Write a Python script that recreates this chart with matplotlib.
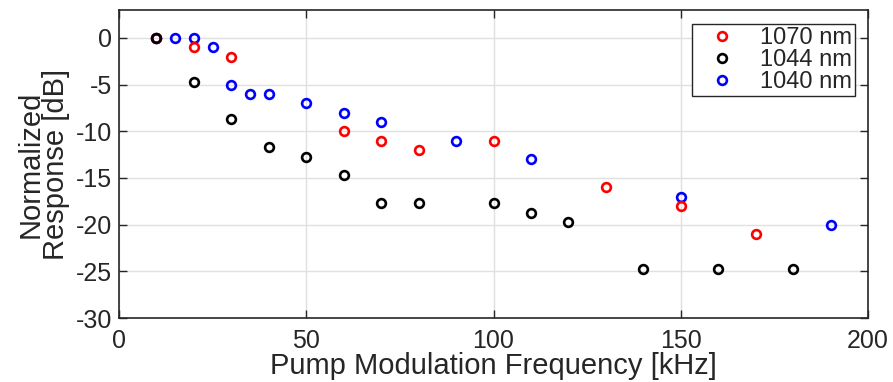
import numpy as np
import matplotlib.pyplot as plt

plt.rcParams['font.family'] = ['Liberation Sans', 'DejaVu Sans']
plt.rcParams['axes.unicode_minus'] = False

# 1070 nm
f_1070 = [10, 20, 30, 60, 70, 80, 100, 130, 150, 170]
r_1070 = [0, -1, -2, -10, -11, -12, -11, -16, -18, -21]

# 1044 nm
f_1044 = [10, 20, 30, 40, 50, 60, 70, 80, 100, 110, 120, 140, 160, 180]
r_1044 = [0, -4.7, -8.7, -11.7, -12.7, -14.7, -17.7, -17.7, -17.7, -18.7, -19.7, -24.7, -24.7, -24.7]

# 1040 nm
f_1040 = [10, 15, 20, 25, 30, 35, 40, 50, 60, 70, 90, 110, 150, 190]
r_1040 = [0, 0, 0, -1, -5, -6, -6, -7, -8, -9, -11, -13, -17, -20]

txt = '#262626'

fig = plt.figure(figsize=(8.93, 3.82), dpi=100)
ax = fig.add_axes([0.1333, 0.1675, 0.8387, 0.8065])

mk = dict(linestyle='none', marker='o', markersize=6.3, markerfacecolor='none', markeredgewidth=1.9)
h_blue, = ax.plot(f_1040, r_1040, color='#0000ff', label='1040 nm', **mk)
h_red, = ax.plot(f_1070, r_1070, color='#ff0000', label='1070 nm', **mk)
h_black, = ax.plot(f_1044, r_1044, color='black', label='1044 nm', **mk)

ax.set_xlim(0, 200)
ax.set_ylim(-30, 3)
ax.set_xticks([0, 50, 100, 150, 200])
ax.set_yticks([0, -5, -10, -15, -20, -25, -30])
ax.grid(True, color='#e0e0e0', linewidth=1)
ax.set_axisbelow(True)
ax.tick_params(direction='in', top=True, right=True, labelsize=18, length=5.5,
               width=1, colors=txt)
ax.tick_params(axis='x', pad=8)
ax.tick_params(axis='y', pad=5)
for s in ax.spines.values():
    s.set_linewidth(1.2)
    s.set_color(txt)

ax.set_xlabel('Pump Modulation Frequency [kHz]', fontsize=21, labelpad=-1, color=txt)
ax.set_ylabel('Normalized\nResponse [dB]', fontsize=21, labelpad=4, linespacing=0.9, color=txt)

leg = ax.legend([h_red, h_black, h_blue], ['1070 nm', '1044 nm', '1040 nm'],
                loc='upper right', bbox_to_anchor=(0.9826, 0.9545),
                fontsize=17, fancybox=False, framealpha=1,
                edgecolor=txt, handlelength=2.3, handletextpad=0.45,
                borderpad=0.12, labelspacing=0.0, borderaxespad=0)
leg.get_frame().set_linewidth(1.0)
for t in leg.get_texts():
    t.set_color(txt)

fig.savefig('out.png', dpi=100)
